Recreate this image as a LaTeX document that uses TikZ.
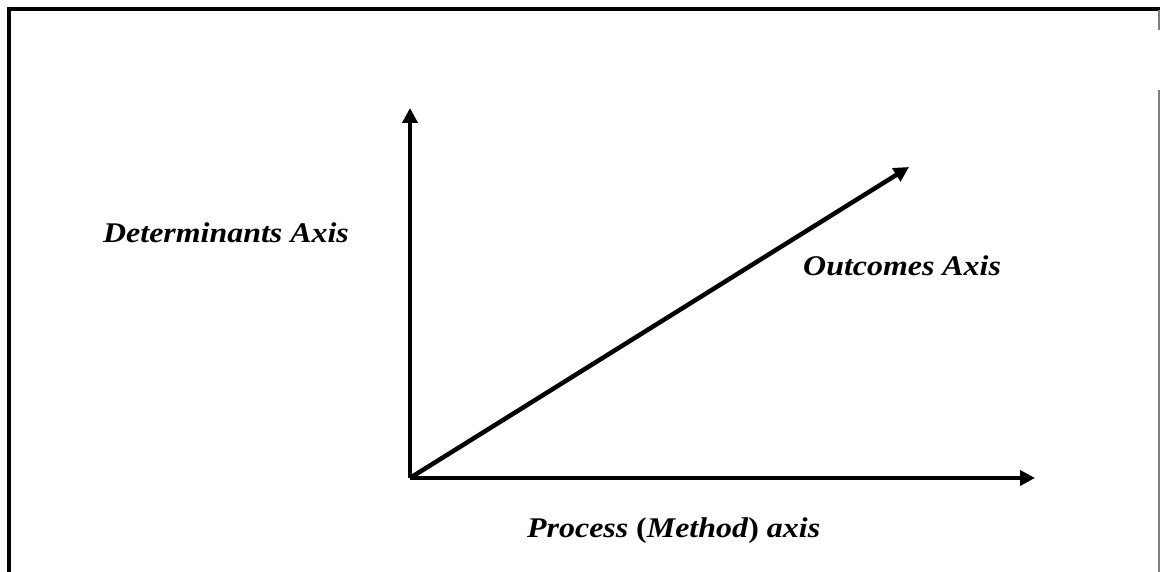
\documentclass[tikz,border=0pt]{standalone}
\usepackage{fontspec}
\setmainfont[FakeStretch=1.12]{Liberation Serif}
\usetikzlibrary{arrows.meta}
\begin{document}
\begin{tikzpicture}[x=1bp,y=-1bp,
		axis/.style={line width=4.5bp,-{Triangle[length=15bp,width=15bp]}},
		lbl/.style={anchor=base west,inner sep=0pt,font=\fontsize{28.5bp}{34bp}\selectfont\bfseries\itshape}]
			\useasboundingbox (0,0) rectangle (1160,572);
			\draw[line width=4bp] (1160,9) -- (9,9) -- (9,572);
			\draw[gray,line width=1.5bp] (1159,10) -- (1159,30) (1159,90) -- (1159,572);
			%--
			\coordinate (O) at (410,478);
			\coordinate (ytip) at (410,108);
			\coordinate (xtip) at (1035,478);
			\coordinate (ztip) at (909,167);
			\draw[axis] (O) -- (ytip);
			\draw[axis] (O) -- (xtip);
			\draw[axis] (O) -- (ztip);
			%--
			\node[lbl] (det) at (103,243) {Determinants Axis};
			\node[lbl] (out) at (803,276) {Outcomes Axis};
			\node[lbl] (proc) at (527,537) {Process \textup{(}Method\textup{)} axis};
		\end{tikzpicture}
\end{document}
